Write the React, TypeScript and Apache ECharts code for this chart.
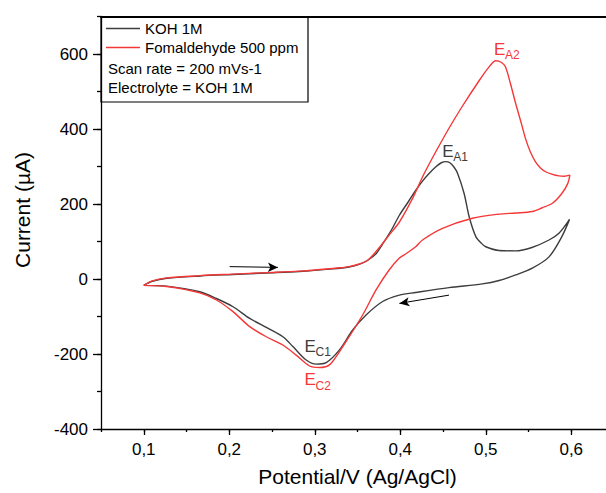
import React, { useEffect, useRef } from 'react';
import * as echarts from 'echarts';

// ---- Data (Potential V vs Current µA) ----
const kohV = [
  0.100, 0.110, 0.127, 0.166, 0.204, 0.243, 0.282, 0.321, 0.340, 0.352, 0.362, 0.372, 0.379, 0.390,
  0.399, 0.410, 0.418, 0.426, 0.434, 0.442, 0.448, 0.4534, 0.458, 0.463, 0.467, 0.4747, 0.4806,
  0.4884, 0.495, 0.500, 0.5156, 0.535, 0.554, 0.574, 0.5856, 0.598,
  0.589, 0.574, 0.5545, 0.535, 0.5156, 0.496, 0.457, 0.418, 0.399, 0.3794, 0.360, 0.3444, 0.3289,
  0.3134, 0.3017, 0.290, 0.2744, 0.2627, 0.2433, 0.2239, 0.2044, 0.185, 0.1655, 0.1266, 0.100,
];
const kohI = [
  -17, -6, 2, 8, 12, 16, 20, 27, 32, 39, 50, 68, 92, 132,
  170, 208, 236, 261, 282, 300, 310, 313, 310, 298, 282, 228, 166,
  113, 95, 86, 76, 75, 84, 104, 122, 159,
  113, 59, 29, 11, -4, -13, -23, -36, -43, -60, -96, -136, -189,
  -223, -227, -216, -180, -154, -129, -105, -74, -52, -34, -19, -17,
];
const formV = [
  0.100, 0.110, 0.127, 0.166, 0.204, 0.243, 0.282, 0.321, 0.340, 0.352, 0.362, 0.3756, 0.387, 0.399,
  0.4144, 0.426, 0.436, 0.4456, 0.457, 0.473, 0.492, 0.503, 0.5117, 0.518, 0.523, 0.529, 0.535,
  0.541, 0.547, 0.552, 0.558, 0.564, 0.570, 0.578, 0.5856, 0.592, 0.5984,
  0.596, 0.589, 0.578, 0.566, 0.5545, 0.535, 0.5156, 0.4844, 0.4494, 0.426, 0.418, 0.407, 0.399,
  0.387, 0.3717, 0.356, 0.3328, 0.3172, 0.3056, 0.2939, 0.2783, 0.2627, 0.2433, 0.2239, 0.2044,
  0.185, 0.1655, 0.1266, 0.100,
];
const formI = [
  -17, -5, 3, 9, 13, 17, 21, 28, 33, 40, 50, 84, 117, 152,
  215, 272, 316, 356, 402, 462, 528, 563, 582, 578, 566, 520, 468,
  420, 371, 340, 313, 296, 286, 279, 275, 274, 277,
  255, 228, 202, 190, 180, 176, 173, 162, 135, 104, 86, 68, 56,
  24, -29, -96, -180, -229, -236, -232, -203, -176, -154, -127, -87,
  -56, -37, -20, -17,
];

const seriesNames = ['KOH 1M', 'Fomaldehyde 500 ppm'];
const noteLines = ['Scan rate = 200 mVs-1', 'Electrolyte = KOH 1M'];
const xMajorTicks = [0.1, 0.2, 0.3, 0.4, 0.5, 0.6];
const yMajorTicks = [-400, -200, 0, 200, 400, 600];

// peak annotations: [V, µA] anchor of the "E"
const peakMain = ['E', 'E', 'E', 'E'];
const peakSub = ['A2', 'A1', 'C1', 'C2'];
const peakV = [0.5097, 0.449, 0.288, 0.288];
const peakI = [613, 341, -179, -269];
const peakSeries = [1, 0, 0, 1];

// scan direction arrows
const arrowStartV = [0.2005, 0.457];
const arrowStartI = [33, -43];
const arrowEndV = [0.2569, 0.399];
const arrowEndI = [31, -65];

const BLACK = '#3d3d3d';
const RED = '#f43838';
const FONT = '"Liberation Sans", Arial, sans-serif';
const colors = [BLACK, RED];

export default function App() {
  const ref = useRef<HTMLDivElement>(null);

  useEffect(() => {
    if (!ref.current) return;
    const chart = echarts.init(ref.current, undefined, { renderer: 'svg' });

    const axisLineStyle = { color: '#000', width: 1.3 };
    const xCommon = { type: 'value', min: 0.05, max: 0.65, interval: 0.05, splitLine: { show: false } };
    const yCommon = { type: 'value', min: -400, max: 700, interval: 100, splitLine: { show: false } };

    const option: any = {
      animation: false,
      backgroundColor: '#fff',
      grid: { left: 101, top: 16.5, bottom: 64, right: 0 },
      legend: {
        show: true,
        orient: 'vertical',
        left: 106,
        top: 19,
        padding: 0,
        icon: 'rect',
        itemWidth: 34,
        itemHeight: 1.4,
        itemGap: 0,
        selectedMode: false,
        textStyle: { fontSize: 15, lineHeight: 19, color: '#000', fontFamily: FONT },
        data: seriesNames,
      },
      xAxis: [
        {
          ...xCommon,
          position: 'bottom',
          axisLine: { show: true, onZero: false, lineStyle: axisLineStyle },
          axisTick: { show: true, customValues: xMajorTicks, length: 6, lineStyle: axisLineStyle },
          axisLabel: {
            customValues: xMajorTicks,
            formatter: (v: number) => v.toFixed(1).replace('.', ','),
            fontSize: 17,
            color: '#000',
            fontFamily: FONT,
            margin: 12,
          },
          name: 'Potential/V (Ag/AgCl)',
          nameLocation: 'middle',
          nameGap: 37,
          nameTextStyle: { fontSize: 21, color: '#000', fontFamily: FONT },
        },
        {
          ...xCommon,
          position: 'bottom',
          axisLine: { show: false, onZero: false },
          axisTick: { show: true, length: 3, lineStyle: axisLineStyle },
          axisLabel: { show: false },
        },
        {
          ...xCommon,
          position: 'top',
          axisLine: { show: true, onZero: false, lineStyle: { color: '#000', width: 2 } },
          axisTick: { show: false },
          axisLabel: { show: false },
        },
      ],
      yAxis: [
        {
          ...yCommon,
          position: 'left',
          axisLine: { show: true, onZero: false, lineStyle: axisLineStyle },
          axisTick: { show: true, customValues: yMajorTicks, length: 8, lineStyle: axisLineStyle },
          axisLabel: { customValues: yMajorTicks, fontSize: 17, color: '#000', fontFamily: FONT, margin: 13 },
        },
        {
          ...yCommon,
          position: 'left',
          axisLine: { show: false, onZero: false },
          axisTick: { show: true, length: 4, lineStyle: axisLineStyle },
          axisLabel: { show: false },
        },
      ],
      series: [
        {
          type: 'line',
          name: seriesNames[0],
          xAxisIndex: 0,
          yAxisIndex: 0,
          data: kohV.map((v, k) => [v, kohI[k]]),
          symbol: 'none',
          showSymbol: false,
          smooth: 0.3,
          lineStyle: { color: BLACK, width: 1.4 },
          itemStyle: { color: BLACK },
          emphasis: { disabled: true },
          markLine: {
            silent: true,
            symbol: ['none', 'arrow'],
            symbolSize: [7, 10],
            lineStyle: { color: '#000', width: 1, type: 'solid' },
            label: { show: false },
            emphasis: { disabled: true },
            data: arrowStartV.map((v, k) => [
              { coord: [v, arrowStartI[k]] },
              { coord: [arrowEndV[k], arrowEndI[k]] },
            ]),
          },
        },
        {
          type: 'line',
          name: seriesNames[1],
          xAxisIndex: 0,
          yAxisIndex: 0,
          data: formV.map((v, k) => [v, formI[k]]),
          symbol: 'none',
          showSymbol: false,
          smooth: 0.3,
          lineStyle: { color: RED, width: 1.4 },
          itemStyle: { color: RED },
          emphasis: { disabled: true },
        },
      ],
    };
    chart.setOption(option);

    const graphics: any[] = [
      {
        type: 'rect',
        id: 'legendBox',
        shape: { x: 101, y: 16.5, width: 207, height: 85.5 },
        style: { fill: 'none', stroke: '#000', lineWidth: 1.2 },
        z: 10,
      },
      ...noteLines.map((t, k) => ({
        type: 'text',
        id: 'note' + k,
        x: 108,
        y: 68.5 + k * 19,
        style: { text: t, fontSize: 15, fontFamily: FONT, fill: '#000', verticalAlign: 'middle', align: 'left' },
        z: 10,
      })),
      {
        type: 'text',
        id: 'ytitle',
        x: 22.5,
        y: 210,
        rotation: Math.PI / 2,
        style: {
          text: 'Current (µA)',
          fontSize: 21,
          fontFamily: FONT,
          fill: '#000',
          align: 'center',
          verticalAlign: 'middle',
        },
      },
    ];
    peakV.forEach((v, k) => {
      const p = chart.convertToPixel({ xAxisIndex: 0, yAxisIndex: 0 }, [v, peakI[k]]) as number[];
      const c = colors[peakSeries[k]];
      graphics.push({
        type: 'group',
        id: 'peak' + k,
        x: p[0],
        y: p[1],
        children: [
          {
            type: 'text',
            x: 0,
            y: 0,
            style: { text: peakMain[k], fontSize: 17, fontFamily: FONT, fill: c, align: 'left', verticalAlign: 'middle' },
          },
          {
            type: 'text',
            x: 11,
            y: 6,
            style: { text: peakSub[k], fontSize: 12, fontFamily: FONT, fill: c, align: 'left', verticalAlign: 'middle' },
          },
        ],
      });
    });
    chart.setOption({ graphic: graphics });

    return () => chart.dispose();
  }, []);

  return (
    <div style={{ position: 'absolute', left: 0, top: 0, width: 606, height: 493, overflow: 'hidden', background: '#fff' }}>
      <div ref={ref} style={{ width: 614, height: 493 }} />
    </div>
  );
}
